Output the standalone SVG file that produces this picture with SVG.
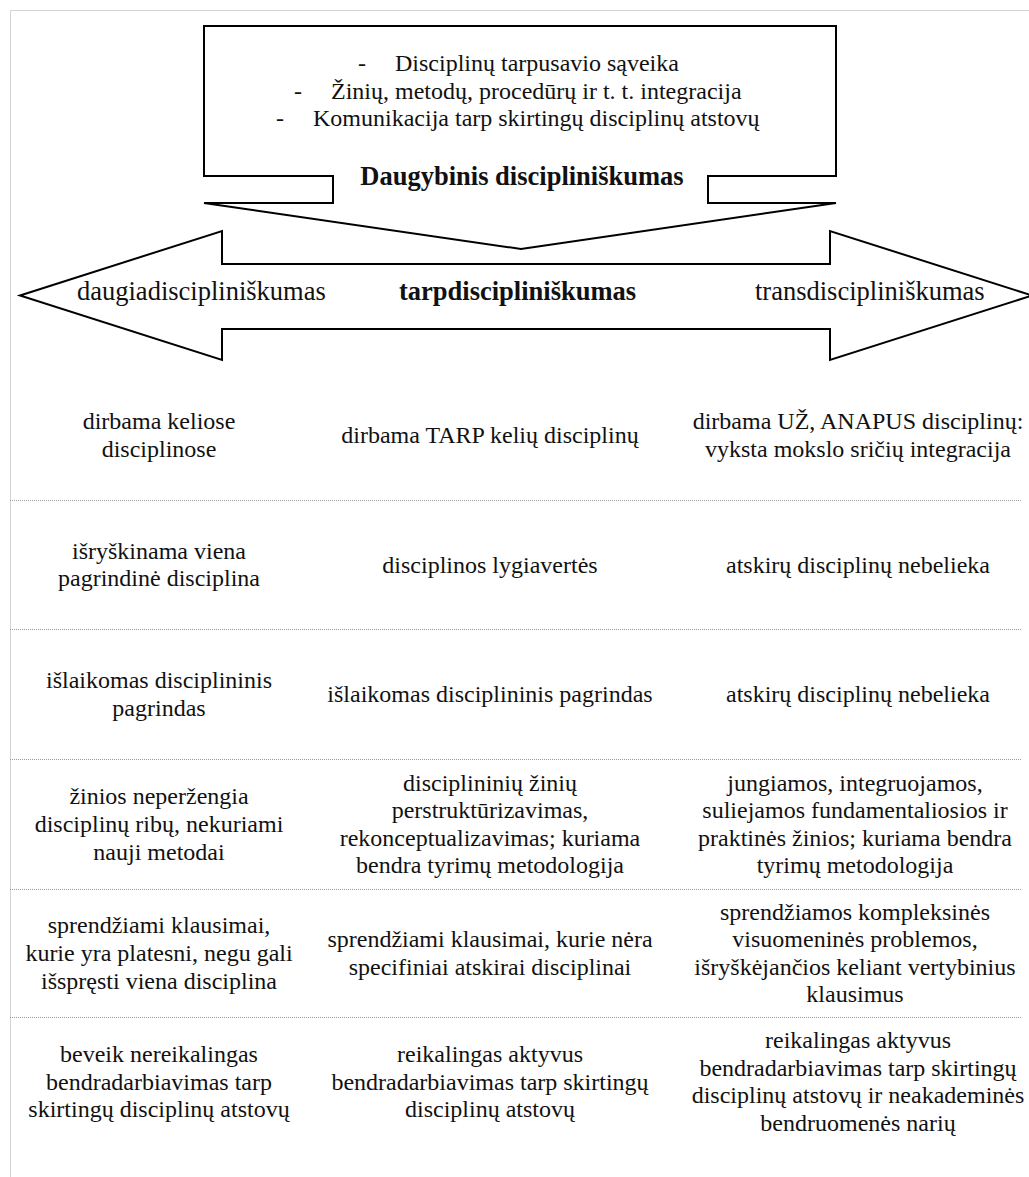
<svg xmlns="http://www.w3.org/2000/svg" width="1029" height="1177" viewBox="0 0 1029 1177">
<style>
  .frame { stroke: #d4d4d4; stroke-width: 1; fill: none; }
  .shape { fill: #ffffff; stroke: #000000; stroke-width: 2; stroke-linejoin: miter; }
  .sep { stroke: #9a9a9a; stroke-width: 1; stroke-dasharray: 1 1; fill: none; }
  text { font-family: "Liberation Serif", "Times New Roman", serif; fill: #111111; }
  .t24 { font-size: 24px; }
  .t26 { font-size: 26.5px; }
  .b { font-weight: bold; }
  .c1 { text-anchor: middle; }
</style>
<rect x="0" y="0" width="1029" height="1177" fill="#ffffff"/>
<g id="frame">
  <line class="frame" x1="10" y1="10.5" x2="1029" y2="10.5"/>
  <line class="frame" x1="10.5" y1="10" x2="10.5" y2="1177"/>
</g>
<g id="callout">
  <path class="shape" d="M204,26 H836 V176 H708 V203 H836 L521,249 L204,203 H333 V176 H204 Z"/>
  <text class="t24" y="71"><tspan x="358" y="71">-</tspan><tspan x="395" y="71">Disciplinų tarpusavio sąveika</tspan></text>
  <text class="t24" y="98.6"><tspan x="294" y="98.6">-</tspan><tspan x="331" y="98.6">Žinių, metodų, procedūrų ir t. t. integracija</tspan></text>
  <text class="t24" y="126.2"><tspan x="276" y="126.2">-</tspan><tspan x="313" y="126.2">Komunikacija tarp skirtingų disciplinų atstovų</tspan></text>
  <text class="t26 b c1" x="522" y="185">Daugybinis discipliniškumas</text>
</g>
<g id="double-arrow">
  <path class="shape" d="M20,295.5 L222,231 V264 H830 V231 L1032,295.5 L830,360 V329 H222 V360 Z"/>
  <text class="t26" x="77" y="300">daugiadiscipliniškumas</text>
  <text class="t26 b" x="399" y="300">tarpdiscipliniškumas</text>
  <text class="t26" x="755" y="300">transdiscipliniškumas</text>
</g>
<g id="connectors">
  <line class="sep" x1="10" y1="500.5" x2="1021" y2="500.5"/>
  <line class="sep" x1="10" y1="629.5" x2="1021" y2="629.5"/>
  <line class="sep" x1="10" y1="759.5" x2="1021" y2="759.5"/>
  <line class="sep" x1="10" y1="889.5" x2="1021" y2="889.5"/>
  <line class="sep" x1="10" y1="1017.5" x2="1021" y2="1017.5"/>
</g>
<g id="row1">
  <text class="t24 c1"><tspan x="159" y="429.2">dirbama keliose</tspan><tspan x="159" y="456.8">disciplinose</tspan></text>
  <text class="t24 c1" x="490" y="443">dirbama TARP kelių disciplinų</text>
  <text class="t24 c1"><tspan x="858" y="429.2">dirbama UŽ, ANAPUS disciplinų:</tspan><tspan x="858" y="456.8">vyksta mokslo sričių integracija</tspan></text>
</g>
<g id="row2">
  <text class="t24 c1"><tspan x="159" y="558.7">išryškinama viena</tspan><tspan x="159" y="586.3">pagrindinė disciplina</tspan></text>
  <text class="t24 c1" x="490" y="572.5">disciplinos lygiavertės</text>
  <text class="t24 c1" x="858" y="572.5">atskirų disciplinų nebelieka</text>
</g>
<g id="row3">
  <text class="t24 c1"><tspan x="159" y="688.2">išlaikomas disciplininis</tspan><tspan x="159" y="715.8">pagrindas</tspan></text>
  <text class="t24 c1" x="490" y="702">išlaikomas disciplininis pagrindas</text>
  <text class="t24 c1" x="858" y="702">atskirų disciplinų nebelieka</text>
</g>
<g id="row4">
  <text class="t24 c1"><tspan x="159" y="804.4">žinios neperžengia</tspan><tspan x="159" y="832">disciplinų ribų, nekuriami</tspan><tspan x="159" y="859.6">nauji metodai</tspan></text>
  <text class="t24 c1"><tspan x="490" y="790.6">disciplininių žinių</tspan><tspan x="490" y="818.2">perstruktūrizavimas,</tspan><tspan x="490" y="845.8">rekonceptualizavimas; kuriama</tspan><tspan x="490" y="873.4">bendra tyrimų metodologija</tspan></text>
  <text class="t24 c1"><tspan x="855" y="790.6">jungiamos, integruojamos,</tspan><tspan x="855" y="818.2">suliejamos fundamentaliosios ir</tspan><tspan x="855" y="845.8">praktinės žinios; kuriama bendra</tspan><tspan x="855" y="873.4">tyrimų metodologija</tspan></text>
</g>
<g id="row5">
  <text class="t24 c1"><tspan x="159" y="933.4">sprendžiami klausimai,</tspan><tspan x="159" y="961">kurie yra platesni, negu gali</tspan><tspan x="159" y="988.6">išspręsti viena disciplina</tspan></text>
  <text class="t24 c1"><tspan x="490" y="947.2">sprendžiami klausimai, kurie nėra</tspan><tspan x="490" y="974.8">specifiniai atskirai disciplinai</tspan></text>
  <text class="t24 c1"><tspan x="855" y="919.6">sprendžiamos kompleksinės</tspan><tspan x="855" y="947.2">visuomeninės problemos,</tspan><tspan x="855" y="974.8">išryškėjančios keliant vertybinius</tspan><tspan x="855" y="1002.4">klausimus</tspan></text>
</g>
<g id="row6">
  <text class="t24 c1"><tspan x="159" y="1062">beveik nereikalingas</tspan><tspan x="159" y="1089.6">bendradarbiavimas tarp</tspan><tspan x="159" y="1117.2">skirtingų disciplinų atstovų</tspan></text>
  <text class="t24 c1"><tspan x="490" y="1062">reikalingas aktyvus</tspan><tspan x="490" y="1089.6">bendradarbiavimas tarp skirtingų</tspan><tspan x="490" y="1117.2">disciplinų atstovų</tspan></text>
  <text class="t24 c1"><tspan x="858" y="1048.2">reikalingas aktyvus</tspan><tspan x="858" y="1075.8">bendradarbiavimas tarp skirtingų</tspan><tspan x="858" y="1103.4">disciplinų atstovų ir neakademinės</tspan><tspan x="858" y="1131">bendruomenės narių</tspan></text>
</g>
</svg>
